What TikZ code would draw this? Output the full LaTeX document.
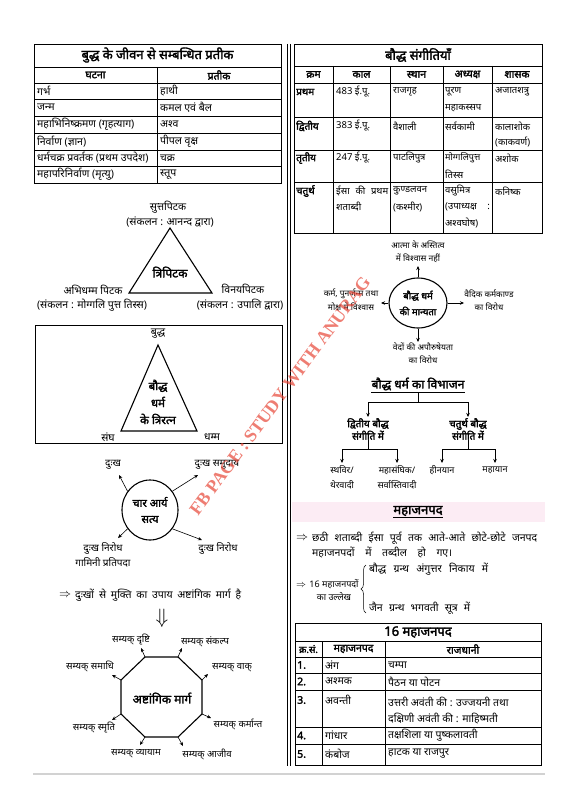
\documentclass[tikz,border=0pt]{standalone}
\usepackage{fontspec}
\setmainfont[Script=Devanagari, BoldFont={Noto Sans}, BoldFeatures={FakeBold=2.2}]{Noto Sans}
\newfontfamily\wmfont{Liberation Serif}
\usetikzlibrary{arrows.meta,shapes.geometric,decorations.pathreplacing}
\definecolor{wmred}{RGB}{232,70,55}
\definecolor{pinkband}{RGB}{252,236,244}
\newcommand{\fs}[2]{\fontsize{#1}{#2}\selectfont}
\tikzset{
 tx/.style={font=\fs{10.5}{13}, inner sep=0pt},
 rtx/.style={font=\fs{9.5}{11}, inner sep=0pt, anchor=west},
 bx/.style={font=\bfseries\fs{10.5}{13}, inner sep=0pt},
 ttl/.style={font=\bfseries\fs{13}{15}, inner sep=0pt},
 cl/.style={tx, anchor=west},
 bcl/.style={bx, anchor=west},
 rbcl/.style={font=\bfseries\fs{10}{11}, inner sep=0pt, anchor=west},
 lab/.style={tx, align=center},
 arr/.style={-{Stealth[length=4pt,width=3.5pt]}, line width=0.6pt},
 tbl/.style={line width=0.7pt},
 shp/.style={line width=1.1pt},
}
\begin{document}
\begin{tikzpicture}[x=1pt,y=-1pt]
\useasboundingbox (0,0) rectangle (565,800);
\fill[white] (0,0) rectangle (565,800);

% divider
\draw[line width=0.6pt] (287,44) -- (287,766) (290,44) -- (290,766);
% bottom rule
\draw[gray!35, line width=1.5pt] (33,774) -- (545,774);

%%%%% Left table
\draw[tbl] (34,44) rectangle (281,183);
\foreach \yy in {67,83,99,116,133,150,166} \draw[tbl] (34,\yy) -- (281,\yy);
\draw[tbl] (157,67) -- (157,183);
\node[ttl] (lt) at (157.5,55) {बुद्ध के जीवन से सम्बन्धित प्रतीक};
\node[bx] (lh1) at (95.5,75) {घटना};
\node[bx] (lh2) at (219,75) {प्रतीक};
\node[cl] (l1a) at (37,91) {गर्भ};
\node[cl] (l1b) at (160,91) {हाथी};
\node[cl] (l2a) at (37,107.5) {जन्म};
\node[cl] (l2b) at (160,107.5) {कमल एवं बैल};
\node[cl] (l3a) at (37,124.5) {महाभिनिष्क्रमण (गृहत्याग)};
\node[cl] (l3b) at (160,124.5) {अश्व};
\node[cl] (l4a) at (37,141.5) {निर्वाण (ज्ञान)};
\node[cl] (l4b) at (160,141.5) {पीपल वृक्ष};
\node[cl] (l5a) at (37,158) {धर्मचक्र प्रवर्तक (प्रथम उपदेश)};
\node[cl] (l5b) at (160,158) {चक्र};
\node[cl] (l6a) at (37,174.5) {महापरिनिर्वाण (मृत्यु)};
\node[cl] (l6b) at (160,174.5) {स्तूप};

%%%%% Tripitaka
\coordinate (tA) at (170,228);
\coordinate (tB) at (129,293);
\coordinate (tC) at (212,293);
\draw[shp] (tA) -- (tB) -- (tC) -- cycle;
\node[font=\bfseries\fs{12}{14}, inner sep=0pt] (tri) at (170,272) {त्रिपिटक};
\node[lab] (sut) at (168,207) {सुत्तपिटक};
\node[lab] (sutb) at (170,222) {(संकलन : आनन्द द्वारा)};
\node[lab] (abh) at (93,290) {अभिधम्म पिटक};
\node[lab] (abhb) at (92,305) {(संकलन : मोग्गलि पुत्त तिस्स)};
\node[lab] (vin) at (243,289) {विनयपिटक};
\node[lab] (vinb) at (240,305) {(संकलन : उपालि द्वारा)};

%%%%% Triratna
\draw[tbl] (35,325) rectangle (282,443);
\coordinate (rA) at (158,345);
\coordinate (rB) at (121,431);
\coordinate (rC) at (197,431);
\draw[shp] (rA) -- (rB) -- (rC) -- cycle;
\node[lab] (bud) at (158,334) {बुद्ध};
\node[lab] (sangh) at (108,437) {संघ};
\node[lab] (dham) at (212,437) {धम्म};
\node[font=\bfseries\fs{11.5}{17}, inner sep=0pt, align=center] (trr) at (158,402) {बौद्ध\\धर्म\\के त्रिरत्न};

%%%%% Four noble truths
\node[draw, shp, ellipse, minimum width=56pt, minimum height=60pt, inner sep=0pt] (cas) at (150,510) {};
\node[font=\bfseries\fs{11}{16}, inner sep=0pt, align=center] (cast) at (150,510) {चार आर्य\\सत्य};
\coordinate (c1) at (119,475);
\coordinate (c2) at (198,475);
\coordinate (c3) at (118,538);
\coordinate (c4) at (202,540);
\draw[arr] (cas.140) -- (c1);
\draw[arr] (cas.40) -- (c2);
\draw[arr] (cas.220) -- (c3);
\draw[arr] (cas.-40) -- (c4);
\node[lab, font=\fs{10}{12}] (d1) at (113,465) {दुःख};
\node[lab, font=\fs{10}{12}] (d2) at (217,465) {दुःख समुदाय};
\node[lab, font=\fs{10}{15}] (d3) at (103,555) {दुःख निरोध\\गामिनी प्रतिपदा};
\node[lab, font=\fs{10}{12}] (d4) at (218,548) {दुःख निरोध};

\node[inner sep=0pt] (mka) at (65,595) {\large$\Rightarrow$};
\node[tx, anchor=west] (mk) at (75,595) {\makebox[166pt][s]{दुःखों से मुक्ति का उपाय अष्टांगिक मार्ग है}};
\node[inner sep=0pt, font=\huge] (dn) at (162,618) {$\Downarrow$};

%%%%% Octagon
\coordinate (o1) at (145,657);
\coordinate (o2) at (178,657);
\coordinate (o3) at (202,680);
\coordinate (o4) at (202,714);
\coordinate (o5) at (178,737);
\coordinate (o6) at (145,737);
\coordinate (o7) at (121,714);
\coordinate (o8) at (121,680);
\draw[shp] (o1) -- (o2) -- (o3) -- (o4) -- (o5) -- (o6) -- (o7) -- (o8) -- cycle;
\node[font=\bfseries\fs{12}{14}, inner sep=0pt] (ash) at (162,698) {अष्टांगिक मार्ग};
\coordinate (p1) at (141,648);
\coordinate (p2) at (182,648);
\coordinate (p3) at (208,674);
\coordinate (p4) at (211,718);
\coordinate (p5) at (183,746);
\coordinate (p6) at (140,745);
\coordinate (p7) at (112,720);
\coordinate (p8) at (112,675);
\foreach \i in {1,...,8} \draw[arr] (o\i) -- (p\i);
\tikzset{slab/.style={lab, font=\fs{9.5}{12}}}
\node[slab] (s1) at (131,640) {सम्यक् दृष्टि};
\node[slab] (s2) at (205,642) {सम्यक् संकल्प};
\node[slab] (s3) at (232,668) {सम्यक् वाक्};
\node[slab] (s4) at (238,724) {सम्यक् कर्मान्त};
\node[slab] (s5) at (207,754) {सम्यक् आजीव};
\node[slab] (s6) at (136,754) {सम्यक् व्यायाम};
\node[slab] (s7) at (94,728) {सम्यक् स्मृति};
\node[slab] (s8) at (90,666) {सम्यक् समाधि};

%%%%% Right table: councils
\draw[tbl] (294,44) rectangle (542,233);
\foreach \yy in {66,83,117,150,182} \draw[tbl] (294,\yy) -- (542,\yy);
\foreach \xx in {333,390,443,492} \draw[tbl] (\xx,66) -- (\xx,233);
\node[ttl] (rt) at (418,55) {बौद्ध संगीतियाँ};
\node[bx] (h1) at (313.5,74.5) {क्रम};
\node[bx] (h2) at (361.5,74.5) {काल};
\node[bx] (h3) at (416.5,74.5) {स्थान};
\node[bx] (h4) at (467.5,74.5) {अध्यक्ष};
\node[bx] (h5) at (517,74.5) {शासक};
% row 1
\node[rbcl] (r1a) at (296,92) {प्रथम};
\node[rtx] (r1b) at (336,92) {483 ई.पू.};
\node[rtx] (r1c) at (393,92) {राजगृह};
\node[rtx] (r1d) at (445,92) {पूरण};
\node[rtx] (r1d2) at (445,108) {महाकस्सप};
\node[rtx] (r1e) at (495,92) {अजातशत्रु};
% row 2
\node[rbcl] (r2a) at (296,126) {द्वितीय};
\node[rtx] (r2b) at (336,126) {383 ई.पू.};
\node[rtx] (r2c) at (393,126) {वैशाली};
\node[rtx] (r2d) at (445,126) {सर्वकामी};
\node[rtx] (r2e) at (495,126) {कालाशोक};
\node[rtx] (r2e2) at (495,142) {(काकवर्ण)};
% row 3
\node[rbcl] (r3a) at (296,158) {तृतीय};
\node[rtx] (r3b) at (336,158) {247 ई.पू.};
\node[rtx] (r3c) at (393,158) {पाटलिपुत्र};
\node[rtx, font=\fs{9}{11}] (r3d) at (445,158) {मोग्गलिपुत्त};
\node[rtx] (r3d2) at (445,174) {तिस्स};
\node[rtx] (r3e) at (495,158) {अशोक};
% row 4
\node[rbcl] (r4a) at (296,191) {चतुर्थ};
\node[rtx] (r4b) at (336,191) {\makebox[52pt][s]{ईसा की प्रथम}};
\node[rtx] (r4b2) at (336,207) {शताब्दी};
\node[rtx] (r4c) at (393,191) {कुण्डलवन};
\node[rtx] (r4c2) at (393,207) {(कश्मीर)};
\node[rtx] (r4d) at (445,191) {वसुमित्र};
\node[rtx] (r4d2) at (445,207) {(उपाध्यक्ष};
\node[rtx, anchor=east] (r4d3) at (490,207) {:};
\node[rtx] (r4d4) at (445,223) {अश्वघोष)};
\node[rtx] (r4e) at (495,191) {कनिष्क};

%%%%% Beliefs
\node[draw, shp, ellipse, minimum width=58pt, minimum height=50pt, inner sep=0pt] (man) at (418,303) {};
\node[font=\bfseries\fs{9.5}{16}, inner sep=0pt, align=center] (mant) at (418,303) {बौद्ध धर्म\\की मान्यता};
\coordinate (m1) at (418,266);
\coordinate (m2) at (381,303);
\coordinate (m3) at (464,303);
\coordinate (m4) at (418,342);
\draw[arr] (man.north) -- (m1);
\draw[arr] (man.west) -- (m2);
\draw[arr] (man.east) -- (m3);
\draw[arr] (man.south) -- (m4);
\tikzset{blab/.style={lab, font=\fs{8.5}{12.5}}}
\node[blab] (b1) at (418,252) {आत्मा के अस्तित्व\\में विश्वास नहीं};
\node[blab, font=\fs{8.5}{13.5}] (b2) at (351,300) {कर्म, पुनर्जन्म तथा\\मोक्ष में विश्वास};
\node[blab, font=\fs{8.5}{13.5}] (b3) at (489,300) {वैदिक कर्मकाण्ड\\का विरोध};
\node[blab] (b4) at (423,353) {वेदों की अपौरुषेयता\\का विरोध};

%%%%% Division tree
\node[font=\bfseries\fs{12}{14}, inner sep=0pt] (vib) at (418,384) {बौद्ध धर्म का विभाजन};
\draw[line width=0.8pt] ([yshift=-2pt]vib.south west) -- ([yshift=-2pt]vib.south east);
\coordinate (vj) at (418,402);
\draw[line width=0.8pt] ([yshift=-2pt]vib.south) -- (vj);
\node[font=\bfseries\fs{10}{12.5}, inner sep=0pt, align=center] (dv) at (368,429) {द्वितीय बौद्ध\\संगीति में};
\node[font=\bfseries\fs{10}{12.5}, inner sep=0pt, align=center] (cv) at (468,429) {चतुर्थ बौद्ध\\संगीति में};
\draw[arr] (vj) -| ([yshift=1pt]dv.north);
\draw[arr] (vj) -| ([yshift=1pt]cv.north);
\coordinate (dj) at (368,449);
\coordinate (cj) at (468,449);
\draw[line width=0.6pt] (dv.south) -- (dj);
\draw[line width=0.6pt] (cv.south) -- (cj);
\tikzset{tlab/.style={lab, font=\fs{9}{15}}}
\node[tlab] (th) at (342,477) {स्थविर/\\थेरवादी};
\node[tlab] (ms) at (397,477) {महासंघिक/\\सर्वास्तिवादी};
\node[tlab] (hy) at (442,470) {हीनयान};
\node[tlab] (my) at (495,470) {महायान};
\coordinate (thn) at (342,463);
\coordinate (msn) at (397,463);
\coordinate (hyn) at (442,463);
\coordinate (myn) at (495,463);
\draw[arr] (dj) -| (thn);
\draw[arr] (dj) -| (msn);
\draw[arr] (cj) -| (hyn);
\draw[arr] (cj) -| (myn);

%%%%% Mahajanpad
\fill[pinkband] (292,502) rectangle (545,522);
\node[ttl] (mj) at (418,511) {महाजनपद};
\draw[line width=0.8pt] ([yshift=-1.5pt]mj.south west) -- ([yshift=-1.5pt]mj.south east);
\node[inner sep=0pt] (ar1) at (302,538) {\large$\Rightarrow$};
\node[tx, anchor=west] (pa1) at (312,538) {\makebox[225pt][s]{छठी शताब्दी ईसा पूर्व तक आते-आते छोटे-छोटे जनपद}};
\node[tx, anchor=west] (pa2) at (312,553) {\makebox[140pt][s]{महाजनपदों में तब्दील हो गए।}};
\node[inner sep=0pt] (ar2) at (301,586) {$\Rightarrow$};
\node[lab, font=\fs{9}{13}] (sx) at (334,590) {16 महाजनपदों\\का उल्लेख};
\draw[line width=0.5pt, decorate, decoration={brace, amplitude=5pt}] (366,613) -- (366,565);
\node[cl] (bg1) at (369,569) {\makebox[119pt][s]{बौद्ध ग्रन्थ अंगुत्तर निकाय में}};
\node[cl] (bg2) at (369,608) {\makebox[101pt][s]{जैन ग्रन्थ भगवती सूत्र में}};

%%%%% 16 Mahajanpad table
\draw[tbl] (295,623) rectangle (541,765);
\foreach \yy in {641,657,673,690,727,744} \draw[tbl] (295,\yy) -- (541,\yy);
\draw[tbl] (322,641) -- (322,765);
\draw[tbl] (385,641) -- (385,765);
\node[ttl] (mt) at (418,632) {16 महाजनपद};
\node[font=\bfseries\fs{9.5}{11}, inner sep=0pt] (mh1) at (308.5,649) {क्र.सं.};
\node[bx] (mh2) at (353.5,649) {महाजनपद};
\node[bx] (mh3) at (463,649) {राजधानी};
\node[bcl] (n1) at (297,665) {1.};
\node[cl] (n1b) at (325,665) {अंग};
\node[cl] (n1c) at (388,665) {चम्पा};
\node[bcl] (n2) at (297,681.5) {2.};
\node[cl] (n2b) at (325,681.5) {अश्मक};
\node[cl] (n2c) at (388,681.5) {पैठन या पोटन};
\node[bcl] (n3) at (297,700) {3.};
\node[cl] (n3b) at (325,700) {अवन्ती};
\node[cl] (n3c) at (388,702) {उत्तरी अवंती की : उज्जयनी तथा};
\node[cl] (n3d) at (388,719) {दक्षिणी अवंती की : माहिष्मती};
\node[bcl] (n4) at (297,735.5) {4.};
\node[cl] (n4b) at (325,735.5) {गांधार};
\node[cl] (n4c) at (388,735.5) {तक्षशिला या पुष्कलावती};
\node[bcl] (n5) at (297,754) {5.};
\node[cl] (n5b) at (325,754) {कंबोज};
\node[cl] (n5c) at (388,754) {हाटक या राजपुर};

%%%%% Watermark
\node[rotate=53.5, text=wmred, opacity=0.7, inner sep=0pt, font=\wmfont\bfseries\fs{18}{20}] (wm) at (280,396) {FB PAGE : STUDY WITH ANURAG};
\end{tikzpicture}
\end{document}
